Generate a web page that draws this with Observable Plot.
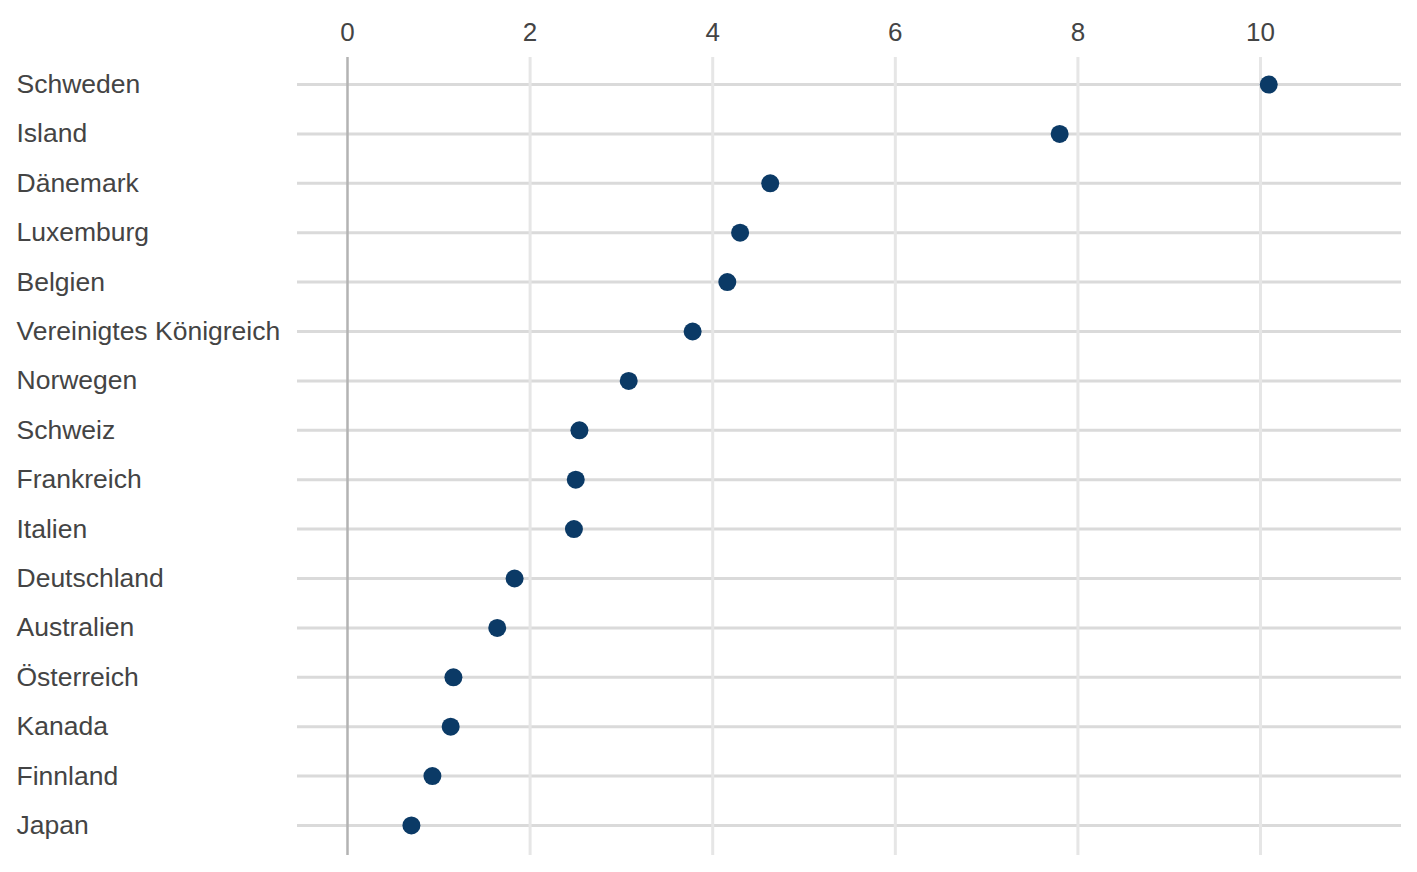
<!DOCTYPE html>
<html>
<head>
<meta charset="utf-8">
<script src="https://cdn.jsdelivr.net/npm/d3@7"></script>
<script src="https://cdn.jsdelivr.net/npm/@observablehq/plot@0.6"></script>
<style>
  html, body { margin: 0; padding: 0; background: #fff; }
</style>
</head>
<body>
<div id="chart"></div>
<script>
const countries = ["Schweden", "Island", "Dänemark", "Luxemburg", "Belgien", "Vereinigtes Königreich", "Norwegen", "Schweiz", "Frankreich", "Italien", "Deutschland", "Australien", "Österreich", "Kanada", "Finnland", "Japan"];
const values = [10.09, 7.80, 4.63, 4.30, 4.16, 3.78, 3.08, 2.54, 2.50, 2.48, 1.83, 1.64, 1.16, 1.13, 0.93, 0.70];
const xTicks = [0, 2, 4, 6, 8, 10];

const data = countries.map((c, i) => ({country: c, value: values[i]}));

const chart = Plot.plot({
  width: 1417,
  height: 872,
  marginLeft: 297,
  marginRight: 16,
  marginTop: 57,
  marginBottom: 20,
  x: {domain: [-0.5476, 11.544]},
  y: {type: "point", domain: countries, padding: 0.547, round: false},
  style: {fontFamily: "'Liberation Sans', Arial, sans-serif", fontSize: "26px", color: "#444444", background: "white"},
  marks: [
    Plot.ruleY(countries, {stroke: "#dadada", strokeWidth: 3}),
    Plot.ruleX(xTicks.filter(t => t !== 0), {stroke: "#e6e6e6", strokeWidth: 3, insetBottom: -3}),
    Plot.ruleX([0], {stroke: "#b3b3b3", strokeWidth: 2.5, insetBottom: -3}),
    Plot.dot(data, {x: "value", y: "country", r: 9, fill: "#0b3a66"}),
    Plot.axisX(xTicks, {anchor: "top", tickSize: 0, tickPadding: 17, fontSize: 26, label: null}),
    Plot.axisY({anchor: "left", tickSize: 0, tickPadding: 281, textAnchor: "start", fontSize: 26.5, label: null})
  ]
});
document.getElementById("chart").appendChild(chart);
</script>
</body>
</html>
